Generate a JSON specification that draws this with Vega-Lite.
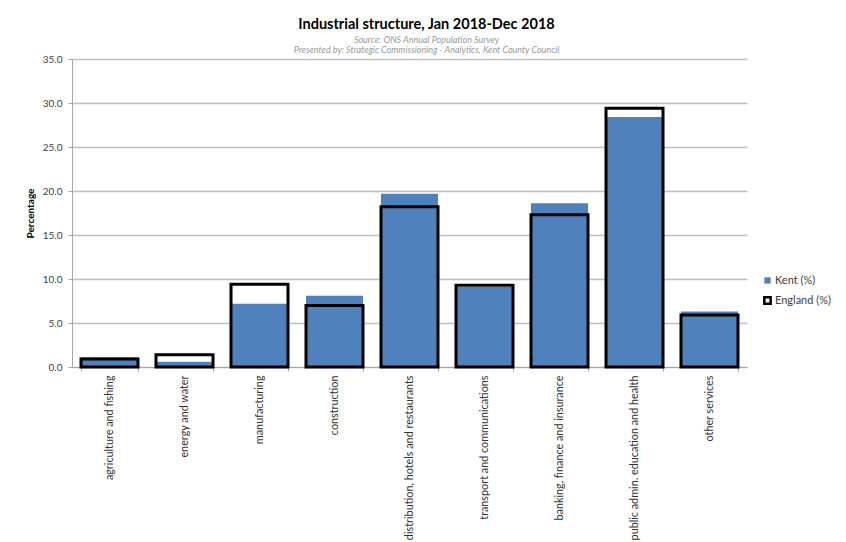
{
  "$schema": "https://vega.github.io/schema/vega-lite/v6.json",
  "width": 675,
  "height": 308,
  "autosize": {"type": "none"},
  "padding": {"left": 72, "top": 59, "right": 99, "bottom": 175},
  "background": "white",
  "title": {
    "text": "Industrial structure, Jan 2018-Dec 2018",
    "subtitle": ["Source: ONS Annual Population Survey", "Presented by: Strategic Commissioning - Analytics, Kent County Council"],
    "anchor": "middle",
    "dx": 17,
    "offset": -2,
    "font": "Lato",
    "fontSize": 14.5,
    "fontWeight": "bold",
    "color": "#000000",
    "subtitleFont": "Lato",
    "subtitleFontSize": 9,
    "subtitleFontStyle": "italic",
    "subtitleColor": "#9a9a9a",
    "subtitlePadding": 4,
    "subtitleLineHeight": 10
  },
  "data": {
    "values": [
      {"industry": "agriculture and fishing", "series": "Kent (%)", "value": 1.1},
      {"industry": "energy and water", "series": "Kent (%)", "value": 0.6},
      {"industry": "manufacturing", "series": "Kent (%)", "value": 7.2},
      {"industry": "construction", "series": "Kent (%)", "value": 8.1},
      {"industry": "distribution, hotels and restaurants", "series": "Kent (%)", "value": 19.7},
      {"industry": "transport and communications", "series": "Kent (%)", "value": 9.1},
      {"industry": "banking, finance and insurance", "series": "Kent (%)", "value": 18.6},
      {"industry": "public admin. education and health", "series": "Kent (%)", "value": 28.4},
      {"industry": "other services", "series": "Kent (%)", "value": 6.3},
      {"industry": "agriculture and fishing", "series": "England (%)", "value": 0.9},
      {"industry": "energy and water", "series": "England (%)", "value": 1.4},
      {"industry": "manufacturing", "series": "England (%)", "value": 9.4},
      {"industry": "construction", "series": "England (%)", "value": 7.0},
      {"industry": "distribution, hotels and restaurants", "series": "England (%)", "value": 18.2},
      {"industry": "transport and communications", "series": "England (%)", "value": 9.3},
      {"industry": "banking, finance and insurance", "series": "England (%)", "value": 17.3},
      {"industry": "public admin. education and health", "series": "England (%)", "value": 29.4},
      {"industry": "other services", "series": "England (%)", "value": 5.9}
    ]
  },
  "mark": {"type": "bar", "strokeWidth": 3, "strokeJoin": "miter"},
  "encoding": {
    "x": {
      "field": "industry",
      "type": "nominal",
      "sort": null,
      "scale": {"paddingInner": 0.24, "paddingOuter": 0.12},
      "axis": {
        "title": null,
        "labelAngle": 270,
        "labelFont": "Lato",
        "labelFontSize": 10.8,
        "labelColor": "#333333",
        "labelLimit": 300,
        "labelPadding": 4,
        "tickBand": "extent",
        "tickSize": 4,
        "tickColor": "#a6a6a6",
        "domainColor": "#a6a6a6",
        "grid": false
      }
    },
    "y": {
      "field": "value",
      "type": "quantitative",
      "stack": null,
      "scale": {"domain": [0, 35], "nice": false},
      "axis": {
        "title": "Percentage",
        "titleFont": "Lato",
        "titleFontSize": 10,
        "titleFontWeight": "bold",
        "titleColor": "#000000",
        "titlePadding": 7,
        "values": [0, 5, 10, 15, 20, 25, 30, 35],
        "format": ".1f",
        "labelFont": "Lato",
        "labelFontSize": 10,
        "labelColor": "#404040",
        "labelPadding": 6,
        "tickSize": 4,
        "tickColor": "#a6a6a6",
        "domainColor": "#a6a6a6",
        "gridColor": "#bfbfbf",
        "gridWidth": 1.3
      }
    },
    "fill": {
      "field": "series",
      "type": "nominal",
      "scale": {"domain": ["Kent (%)", "England (%)"], "range": ["#4f81bd", "transparent"]},
      "legend": {
        "title": null,
        "orient": "none",
        "legendX": 690,
        "legendY": 216,
        "symbolType": "square",
        "symbolSize": 40,
        "symbolStrokeWidth": 2.5,
        "rowPadding": 3,
        "labelFont": "Lato",
        "labelFontSize": 11,
        "labelColor": "#404040",
        "labelOffset": 2
      }
    },
    "stroke": {
      "field": "series",
      "type": "nominal",
      "scale": {"domain": ["Kent (%)", "England (%)"], "range": ["transparent", "#000000"]},
      "legend": {
        "title": null,
        "orient": "none",
        "legendX": 690,
        "legendY": 216,
        "symbolType": "square",
        "symbolSize": 40,
        "symbolStrokeWidth": 2.5,
        "rowPadding": 3,
        "labelFont": "Lato",
        "labelFontSize": 11,
        "labelColor": "#404040",
        "labelOffset": 2
      }
    }
  },
  "config": {
    "view": {"stroke": null}
  }
}
